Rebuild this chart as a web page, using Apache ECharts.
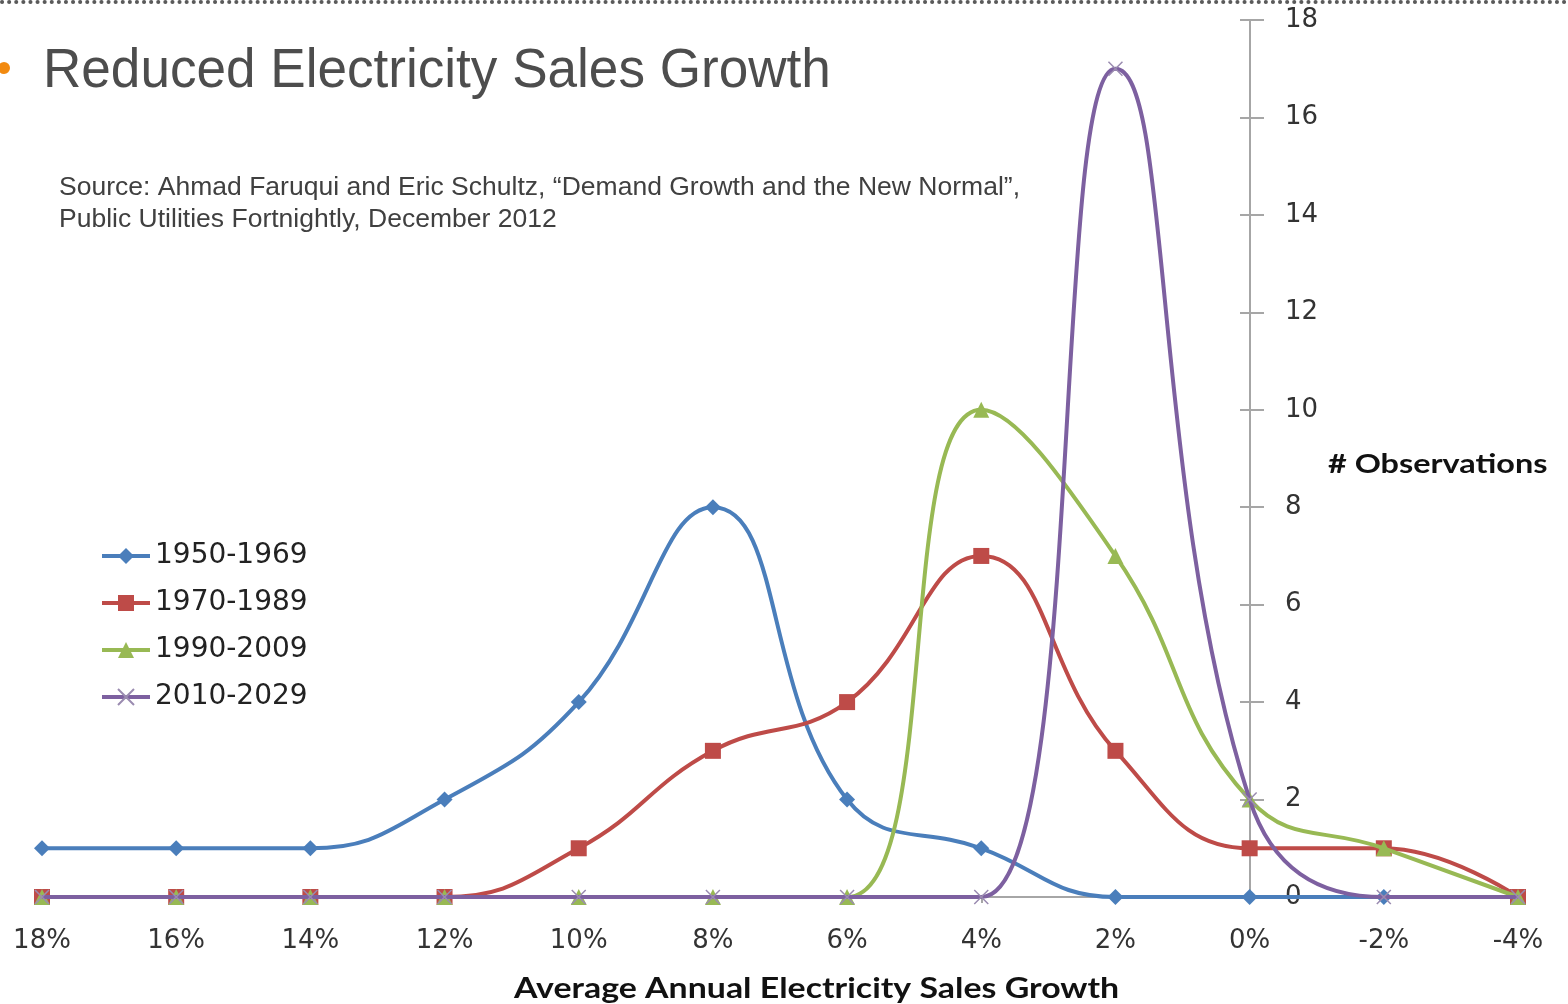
<!DOCTYPE html>
<html>
<head>
<meta charset="utf-8">
<script src="https://cdn.jsdelivr.net/npm/echarts@6/dist/echarts.min.js"></script>
<style>
  html, body { margin: 0; padding: 0; background: #fff; }
  #main { width: 1568px; height: 1004px; }
</style>
</head>
<body>
<div id="main"></div>
<script>
// growth buckets, read left to right (axis runs from 18% down to -4%)
var growthBuckets = [18, 16, 14, 12, 10, 8, 6, 4, 2, 0, -2, -4];

// number of observations per bucket
var obs1950 = [1, 1, 1, 2, 4, 8, 2, 1, 0, 0, 0, 0];
var obs1970 = [0, 0, 0, 0, 1, 3, 4, 7, 3, 1, 1, 0];
var obs1990 = [0, 0, 0, 0, 0, 0, 0, 10, 7, 2, 1, 0];
var obs2010 = [0, 0, 0, 0, 0, 0, 0, 0, 17, 2, 0, 0];

var seriesNames = ['1950-1969', '1970-1989', '1990-2009', '2010-2029'];
var colors = ['#4a7ebb', '#be4b48', '#98b954', '#7d60a0'];

function pairs(vals) {
  var out = [];
  for (var i = 0; i < vals.length; i++) {
    out.push([growthBuckets[i], vals[i]]);
  }
  return out;
}

var chart = echarts.init(document.getElementById('main'));

var axisFont = '"DejaVu Sans", sans-serif';
var gridLeft = 42, gridRight = 50;
// y axis sits on the 0% bucket, so pull it in from the right edge
var plotW = 1568 - gridLeft - gridRight;
var yOffset = -Math.round(plotW * 4 / 22);

function makeSeries(idx, data, symbol, size, extraItem) {
  return {
    name: seriesNames[idx],
    type: 'line',
    data: pairs(data),
    smooth: 0.45,
    symbol: symbol,
    symbolSize: size,
    showAllSymbol: true,
    lineStyle: { color: colors[idx], width: 4 },
    itemStyle: extraItem || { color: colors[idx] },
    z: 2 + idx
  };
}

var option = {
  animation: false,
  grid: { left: gridLeft, right: gridRight, top: 20, bottom: 107, outerBoundsMode: 'none', containLabel: false },
  legend: {
    orient: 'vertical',
    left: 100,
    top: 542,
    padding: 0,
    itemWidth: 48,
    itemHeight: 20,
    itemGap: 19,
    lineStyle: { width: 4 },
    textStyle: { fontFamily: axisFont, fontSize: 28, color: '#222' },
    data: seriesNames
  },
  xAxis: {
    type: 'value',
    inverse: true,
    min: -4,
    max: 18,
    interval: 2,
    splitLine: { show: false },
    axisLine: { onZero: false, lineStyle: { color: '#a6a6a6', width: 2 } },
    axisTick: { show: true, length: 6, lineStyle: { color: '#a6a6a6', width: 2 } },
    axisLabel: {
      formatter: function (v) { return v + '%'; },
      fontFamily: axisFont,
      fontSize: 26,
      color: '#333',
      margin: 31
    }
  },
  yAxis: [{
    type: 'value',
    position: 'right',
    offset: yOffset,
    min: 0,
    max: 18,
    interval: 2,
    splitLine: { show: false },
    axisLine: { show: true, onZero: false, lineStyle: { color: '#a6a6a6', width: 2 } },
    axisTick: { show: true, length: 14, lineStyle: { color: '#a6a6a6', width: 2 } },
    axisLabel: {
      fontFamily: axisFont,
      fontSize: 26,
      color: '#333',
      margin: 35
    }
  }, {
    type: 'value',
    position: 'right',
    offset: yOffset,
    min: 0,
    max: 18,
    interval: 2,
    splitLine: { show: false },
    axisLine: { show: false, onZero: false },
    axisTick: { show: true, inside: true, length: 10, lineStyle: { color: '#a6a6a6', width: 2 } },
    axisLabel: { show: false }
  }],
  graphic: [
    {
      type: 'line',
      shape: { x1: 2, y1: 2, x2: 1568, y2: 2 },
      style: { stroke: '#5a5a5a', lineWidth: 4, lineDash: [0.1, 7], lineCap: 'round' }
    },
    {
      type: 'circle',
      shape: { cx: 4, cy: 68, r: 6 },
      style: { fill: '#f28a10' }
    },
    {
      type: 'text',
      left: 43,
      top: 44,
      scaleX: 0.948,
      style: {
        text: 'Reduced Electricity Sales Growth',
        font: '56px "Liberation Sans", Arial, sans-serif',
        fill: '#4d4d4d'
      }
    },
    {
      type: 'text',
      left: 59,
      top: 172,
      scaleX: 1.02,
      style: {
        text: 'Source: Ahmad Faruqui and Eric Schultz, \u201cDemand Growth and the New Normal\u201d,\nPublic Utilities Fortnightly, December 2012',
        font: '26px "Liberation Sans", Arial, sans-serif',
        lineHeight: 32,
        fill: '#404040'
      }
    },
    {
      type: 'text',
      left: 1328,
      top: 451,
      scaleX: 1.2,
      style: {
        text: '# Observations',
        font: 'bold 27px Lato, "Open Sans", sans-serif',
        fill: '#111'
      }
    },
    {
      type: 'text',
      left: 514,
      top: 975,
      scaleX: 1.21,
      style: {
        text: 'Average Annual Electricity Sales Growth',
        font: 'bold 28px Lato, "Open Sans", sans-serif',
        fill: '#111'
      }
    }
  ],
  series: [
    makeSeries(0, obs1950, 'diamond', 16),
    makeSeries(1, obs1970, 'rect', 16),
    makeSeries(2, obs1990, 'triangle', 16),
    makeSeries(3, obs2010, 'path://M0,0L10,10M0,10L10,0', 14,
      { color: 'none', borderColor: '#9a8bb0', borderWidth: 1.5 })
  ]
};

chart.setOption(option);
</script>
</body>
</html>
